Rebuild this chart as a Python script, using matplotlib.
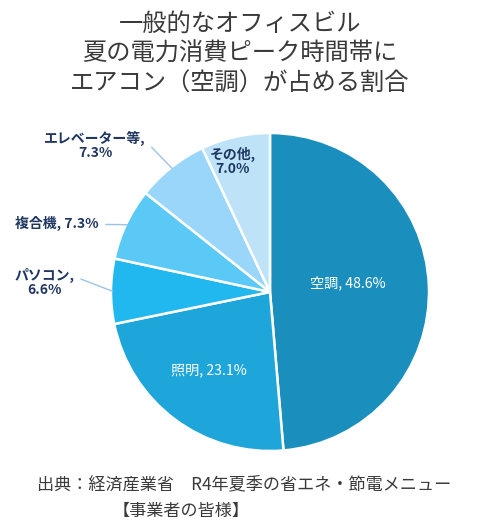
import numpy as np
import matplotlib
matplotlib.use("Agg")
import matplotlib.pyplot as plt

plt.rcParams['font.family'] = ['Noto Sans CJK JP', 'DejaVu Sans']

# データ
項目 = ['空調', '照明', 'パソコン', '複合機', 'エレベーター等', 'その他']
割合 = [48.6, 23.1, 6.6, 7.3, 7.3, 7.0]
色 = ['#1A8FBE', '#1EA6DA', '#21B8EF', '#5BC9F6', '#99D6FA', '#BEE3F9']

タイトル = '一般的なオフィスビル\n夏の電力消費ピーク時間帯に\nエアコン（空調）が占める割合'
出典1 = '出典：経済産業省　R4年夏季の省エネ・節電メニュー'
出典2 = '【事業者の皆様】'

fig = plt.figure(figsize=(4.8, 5.27), dpi=100)
fig.patch.set_facecolor('white')

# 円グラフ（中心 270,292 px、半径 159 px）
W, H = 480, 527
cx, cy, r = 270, 292, 159
ax = fig.add_axes([(cx - r) / W, (H - cy - r) / H, 2 * r / W, 2 * r / H])
wedges, _ = ax.pie(割合, colors=色, startangle=90, counterclock=False,
                   wedgeprops=dict(edgecolor='white', linewidth=1.8), radius=1.0)
ax.set_xlim(-1, 1)
ax.set_ylim(-1, 1)
ax.set_aspect('equal')
ax.axis('off')

ラベル色 = '#1F3660'
線色 = '#9CC3E6'

for i, w in enumerate(wedges):
    mid = np.deg2rad((w.theta1 + w.theta2) / 2)
    x, y = np.cos(mid), np.sin(mid)
    if i == 0:
        ax.text(0.49, 0.06, f'{項目[i]}, {割合[i]:.1f}%', color='white',
                fontsize=10.2, ha='center', va='center')
    elif i == 1:
        ax.text(0.64 * x, 0.64 * y + 0.02, f'{項目[i]}, {割合[i]:.1f}%', color='white',
                fontsize=10.2, ha='center', va='center')
    elif i == 5:
        ax.text(0.84 * x - 0.05, 0.84 * y, f'{項目[i]},\n{割合[i]:.1f}%', color=ラベル色,
                fontsize=10, fontweight='bold', ha='center', va='center',
                linespacing=1.0)

# 外側ラベル（引き出し線付き）
外側 = {
    2: ((-1.42, 0.06), f'{項目[2]},\n{割合[2]:.1f}%', (0.98, 0.72)),
    3: ((-1.34, 0.43), f'{項目[3]}, {割合[3]:.1f}%', (1.0, 0.45)),
    4: ((-1.10, 0.92), f'{項目[4]},\n{割合[4]:.1f}%', (0.98, 0.72)),
}
for i, (pos, txt, rp) in 外側.items():
    mid = np.deg2rad((wedges[i].theta1 + wedges[i].theta2) / 2)
    ax.annotate(txt, xy=(np.cos(mid) * 0.99, np.sin(mid) * 0.99), xytext=pos,
                color=ラベル色, fontsize=10, fontweight='bold',
                ha='center', va='center', multialignment='center', linespacing=1.0,
                arrowprops=dict(arrowstyle='-', color=線色, lw=1.0,
                                shrinkA=3, shrinkB=0, relpos=rp),
                annotation_clip=False)

# タイトル
fig.text(0.5, 1 - 54 / H, タイトル, ha='center', va='center', fontsize=17.5,
         color='#3A3A3A', linespacing=1.2)

# 出典
fig.text(37 / W, 1 - 484 / H, 出典1, ha='left', va='center', fontsize=12.3, color='#3A3A3A')
fig.text(113 / W, 1 - 511 / H, 出典2, ha='left', va='center', fontsize=12.3, color='#3A3A3A')

fig.savefig('out.png', dpi=100, facecolor='white')
